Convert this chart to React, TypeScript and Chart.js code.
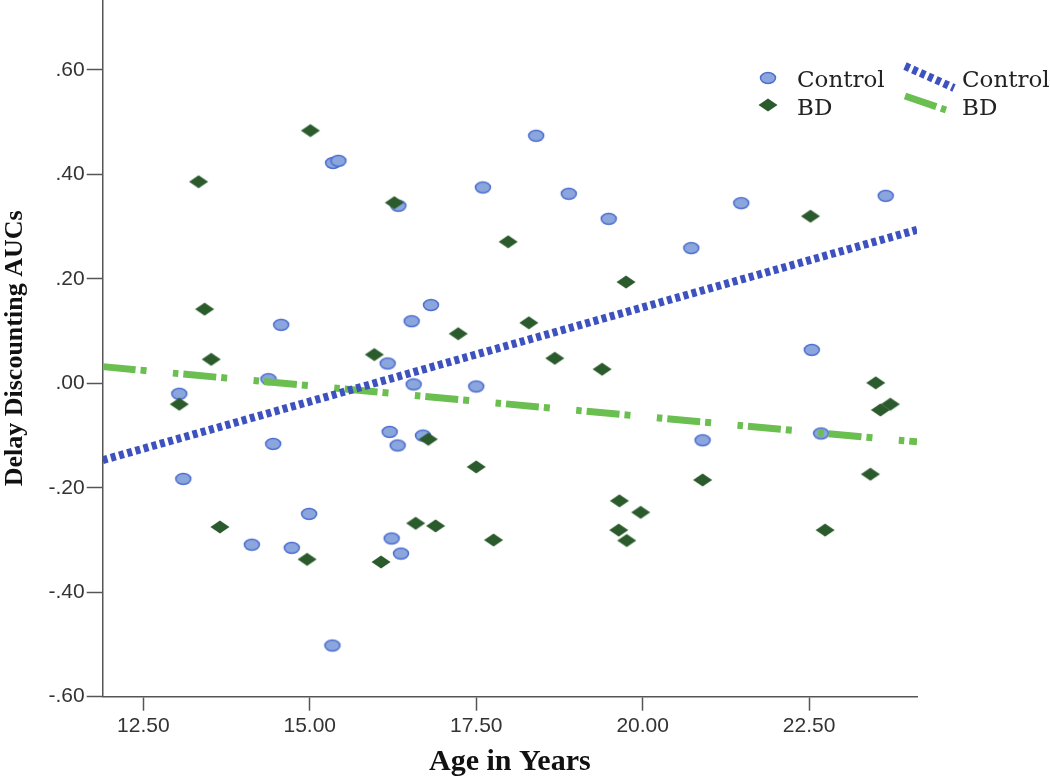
import React, { useEffect, useRef } from 'react';
import { Chart, registerables } from 'chart.js';

Chart.register(...registerables);

// ---- data ----
const controlAge = [13.04, 13.10, 14.13, 14.38, 14.45, 14.57, 14.73, 14.99, 15.34, 15.35, 15.43, 16.17, 16.20, 16.23, 16.32, 16.33, 16.37, 16.53, 16.56, 16.70, 16.82, 17.50, 17.60, 18.40, 18.89, 19.49, 20.73, 20.90, 21.48, 22.54, 22.68, 23.65];
const controlAUC = [-0.020, -0.183, -0.309, 0.008, -0.116, 0.112, -0.315, -0.250, -0.502, 0.422, 0.426, 0.038, -0.093, -0.297, -0.119, 0.340, -0.326, 0.119, -0.002, -0.100, 0.150, -0.006, 0.375, 0.474, 0.363, 0.315, 0.259, -0.109, 0.345, 0.064, -0.096, 0.359];

const bdAge = [13.04, 13.33, 13.42, 13.52, 13.65, 14.96, 15.01, 15.97, 16.07, 16.27, 16.59, 16.78, 16.89, 17.23, 17.50, 17.76, 17.98, 18.29, 18.68, 19.39, 19.64, 19.65, 19.75, 19.76, 19.97, 20.90, 22.52, 22.74, 23.42, 23.50, 23.57, 23.72];
const bdAUC = [-0.040, 0.386, 0.142, 0.046, -0.275, -0.337, 0.484, 0.055, -0.342, 0.346, -0.268, -0.107, -0.273, 0.095, -0.160, -0.300, 0.271, 0.116, 0.048, 0.027, -0.281, -0.225, 0.194, -0.301, -0.247, -0.185, 0.320, -0.281, -0.174, 0.001, -0.051, -0.040];

// fit line end points
const controlFitAge = [11.89, 24.12];
const controlFitAUC = [-0.147, 0.294];
const bdFitAge = [11.89, 24.12];
const bdFitAUC = [0.032, -0.112];

const xTicks = [12.5, 15, 17.5, 20, 22.5];
const yTicks = [-0.6, -0.4, -0.2, 0, 0.2, 0.4, 0.6];
const legendLabels = ['Control', 'BD'];
const xTitle = 'Age in Years';
const yTitle = 'Delay Discounting AUCs';

const CIRCLE_FILL = '#8aa6dd';
const CIRCLE_LINE = '#4d6dd0';
const DIAMOND_FILL = '#2b5b2c';
const BLUE_LINE = '#3d52bf';
const GREEN_LINE = '#6abf50';
const BLUE_DASH = [5, 3.5];
const GREEN_DASH = [33, 5, 6, 26.5, 5.5, 5];

function makeCircle(): HTMLCanvasElement {
  const c = document.createElement('canvas');
  c.width = 20;
  c.height = 16;
  const g = c.getContext('2d')!;
  g.beginPath();
  g.ellipse(10, 8, 7.5, 5.5, 0, 0, Math.PI * 2);
  g.fillStyle = CIRCLE_FILL;
  g.fill();
  g.lineWidth = 1.5;
  g.strokeStyle = CIRCLE_LINE;
  g.stroke();
  return c;
}

function makeDiamond(): HTMLCanvasElement {
  const c = document.createElement('canvas');
  c.width = 22;
  c.height = 16;
  const g = c.getContext('2d')!;
  g.beginPath();
  g.moveTo(11, 1.5);
  g.lineTo(20.5, 8);
  g.lineTo(11, 14.5);
  g.lineTo(1.5, 8);
  g.closePath();
  g.fillStyle = DIAMOND_FILL;
  g.fill();
  return c;
}

function fmtY(v: number): string {
  const s = Math.abs(v).toFixed(2).replace(/^0/, '');
  return (v < -1e-9 ? '-' : '') + s;
}

export default function App() {
  const ref = useRef<HTMLCanvasElement | null>(null);

  useEffect(() => {
    if (!ref.current) return;
    const circle = makeCircle();
    const diamond = makeDiamond();

    const legendPlugin = {
      id: 'spssLegend',
      afterDraw(chart: any) {
        const ctx = chart.ctx as CanvasRenderingContext2D;
        ctx.save();
        ctx.drawImage(circle, 768 - circle.width / 2, 78 - circle.height / 2);
        ctx.drawImage(diamond, 768 - diamond.width / 2, 105 - diamond.height / 2);
        ctx.font = '23px "DejaVu Serif"';
        ctx.fillStyle = '#222';
        ctx.textBaseline = 'alphabetic';
        ctx.textAlign = 'left';
        ctx.fillText(legendLabels[0], 797, 86.5);
        ctx.fillText(legendLabels[1], 797, 114.5);
        ctx.fillText(legendLabels[0], 962, 86.5);
        ctx.fillText(legendLabels[1], 962, 114.5);
        // line samples
        ctx.lineCap = 'butt';
        ctx.beginPath();
        ctx.setLineDash(BLUE_DASH);
        ctx.lineDashOffset = 0;
        ctx.lineWidth = 8;
        ctx.strokeStyle = BLUE_LINE;
        ctx.moveTo(905, 66);
        ctx.lineTo(954, 88);
        ctx.stroke();
        ctx.beginPath();
        ctx.setLineDash(GREEN_DASH);
        ctx.lineWidth = 7;
        ctx.strokeStyle = GREEN_LINE;
        ctx.moveTo(905, 96);
        ctx.lineTo(946, 110);
        ctx.stroke();
        ctx.restore();
      },
    };

    const chart = new Chart(ref.current, {
      type: 'scatter',
      data: {
        datasets: [
          {
            label: 'Control fit',
            data: controlFitAge.map((x, i) => ({ x, y: controlFitAUC[i] })),
            showLine: true,
            borderColor: BLUE_LINE,
            borderWidth: 8,
            borderDash: BLUE_DASH,
            borderCapStyle: 'butt',
            pointRadius: 0,
            order: 0,
          },
          {
            label: 'BD fit',
            data: bdFitAge.map((x, i) => ({ x, y: bdFitAUC[i] })),
            showLine: true,
            borderColor: GREEN_LINE,
            borderWidth: 7,
            borderDash: GREEN_DASH,
            borderCapStyle: 'butt',
            pointRadius: 0,
            order: 1,
          },
          {
            label: 'BD',
            data: bdAge.map((x, i) => ({ x, y: bdAUC[i] })),
            pointStyle: diamond,
            pointRadius: 9,
            order: 2,
          },
          {
            label: 'Control',
            data: controlAge.map((x, i) => ({ x, y: controlAUC[i] })),
            pointStyle: circle,
            pointRadius: 8,
            order: 3,
          },
        ],
      } as any,
      options: {
        animation: false,
        responsive: false,
        devicePixelRatio: 1,
        layout: { autoPadding: false, padding: { left: 0, top: 0, right: 133, bottom: 0 } },
        plugins: {
          legend: { display: false },
          tooltip: { enabled: false },
        },
        scales: {
          x: {
            type: 'linear',
            min: 11.89,
            max: 24.12,
            afterBuildTicks: (s: any) => {
              s.ticks = xTicks.map((v) => ({ value: v }));
            },
            afterFit: (s: any) => {
              s.height = 79.3;
              s.paddingLeft = 0;
              s.paddingRight = 0;
            },
            grid: {
              drawOnChartArea: false,
              drawTicks: true,
              tickLength: 14,
              tickColor: '#555',
              tickWidth: 1.5,
            },
            border: { display: true, color: '#555', width: 1.5 },
            ticks: {
              padding: 3,
              color: '#333',
              font: { family: '"Liberation Sans", Arial, sans-serif', size: 21 },
              callback: (v: any) => Number(v).toFixed(2),
              maxRotation: 0,
              autoSkip: false,
            },
            title: {
              display: true,
              text: xTitle,
              color: '#111',
              padding: { top: 0, bottom: 0 },
              font: { family: '"Liberation Serif", "Times New Roman", serif', size: 30, weight: 'bold', lineHeight: 0.9 },
            },
          },
          y: {
            type: 'linear',
            min: -0.6,
            max: 0.734,
            afterBuildTicks: (s: any) => {
              s.ticks = yTicks.map((v) => ({ value: v }));
            },
            afterFit: (s: any) => {
              s.width = 102.7;
              s.paddingTop = 0;
              s.paddingBottom = 0;
            },
            grid: {
              drawOnChartArea: false,
              drawTicks: true,
              tickLength: 16,
              tickColor: '#555',
              tickWidth: 1.5,
            },
            border: { display: true, color: '#555', width: 1.5 },
            ticks: {
              padding: 2,
              color: '#333',
              font: { family: '"Liberation Sans", Arial, sans-serif', size: 21 },
              callback: (v: any) => fmtY(Number(v)),
              autoSkip: false,
            },
            title: {
              display: true,
              text: yTitle,
              color: '#111',
              padding: { top: 0, bottom: 0 },
              font: { family: '"Liberation Serif", "Times New Roman", serif', size: 26, weight: 'bold' },
            },
          },
        },
      } as any,
      plugins: [legendPlugin],
    });

    return () => chart.destroy();
  }, []);

  return (
    <div style={{ position: 'absolute', left: 0, top: 0, width: 1050, height: 776, background: '#fff' }}>
      <canvas ref={ref} width={1050} height={776} style={{ display: 'block' }} />
    </div>
  );
}
